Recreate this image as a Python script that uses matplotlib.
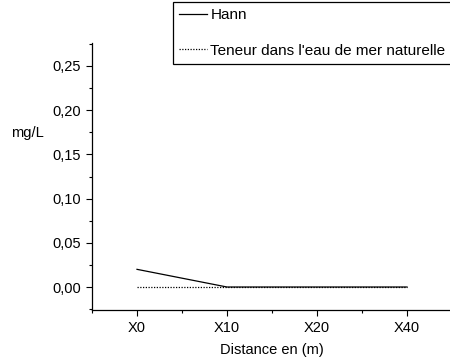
import matplotlib as mpl
mpl.use('Agg')
import matplotlib.pyplot as plt
from matplotlib.ticker import MultipleLocator, FixedLocator

# data
categories = ["X0", "X10", "X20", "X40"]
hann = [0.02, 0.0, 0.0, 0.0]
seawater = [0.0, 0.0, 0.0, 0.0]

plt.rcParams['font.family'] = ['Liberation Sans', 'DejaVu Sans']
plt.rcParams['font.size'] = 10.5

fig = plt.figure(figsize=(4.5, 3.61), dpi=100)
ax = fig.add_axes([92 / 450, 51 / 361, 360 / 450, 267 / 361])

x = list(range(len(categories)))
ax.plot(x, hann, color='black', lw=0.9, label='Hann')
ax.plot(x, seawater, color='black', lw=0.9, ls=(0, (1, 1.2)),
        label="Teneur dans l'eau de mer naturelle")

ax.set_xlim(-0.5, 3.5)
ax.set_ylim(-0.026, 0.276)
ax.set_xticks(x)
ax.set_xticklabels(categories)
ax.xaxis.set_minor_locator(FixedLocator([-0.5, 0.5, 1.5, 2.5, 3.5]))
ax.set_yticks([0, 0.05, 0.10, 0.15, 0.20, 0.25])
ax.set_yticklabels(['0,00', '0,05', '0,10', '0,15', '0,20', '0,25'])
ax.yaxis.set_minor_locator(MultipleLocator(0.025))
ax.tick_params(which='major', direction='out', length=4, width=0.8, pad=4)
ax.tick_params(which='minor', direction='out', length=2.5, width=0.8)
for s in ['top', 'right']:
    ax.spines[s].set_visible(False)
for s in ['left', 'bottom']:
    ax.spines[s].set_linewidth(0.9)

ax.set_xlabel('Distance en (m)', labelpad=6)
ax.set_ylabel('mg/L', rotation=0, va='center', ha='center')
ax.yaxis.set_label_coords(-0.178, 0.663)

leg = fig.legend(loc='upper left', bbox_to_anchor=(173 / 450, 1 - 2 / 361),
                 bbox_transform=fig.transFigure, frameon=True, fancybox=False,
                 edgecolor='black', framealpha=1, fontsize=11, handlelength=1.85,
                 handletextpad=0.2, labelspacing=1.42, borderpad=0.4,
                 borderaxespad=0)
leg.get_frame().set_linewidth(0.9)

fig.savefig('out.png', dpi=100)
